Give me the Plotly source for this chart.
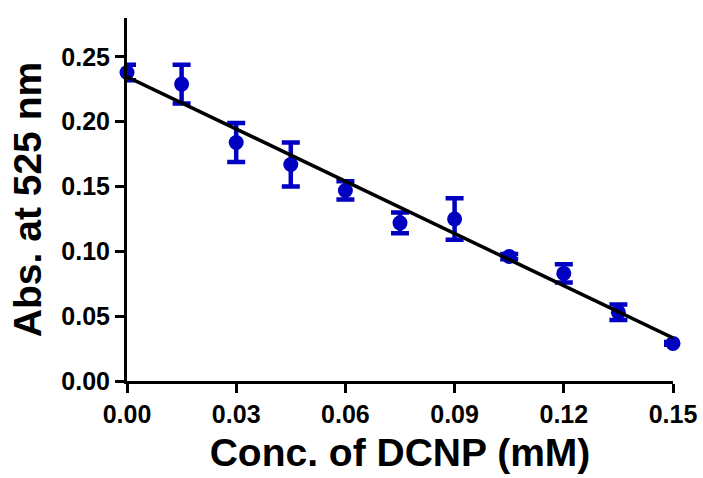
import numpy as np
import plotly.graph_objects as go

# DCNP concentration (mM) vs absorbance at 525 nm, mean ± error
conc = [0.000, 0.015, 0.030, 0.045, 0.060, 0.075, 0.090, 0.105, 0.120, 0.135, 0.150]
absorb = [0.238, 0.229, 0.184, 0.167, 0.147, 0.122, 0.125, 0.096, 0.083, 0.053, 0.029]
err = [0.006, 0.015, 0.015, 0.017, 0.007, 0.008, 0.016, 0.002, 0.007, 0.006, 0.001]

x_ticks = [0.00, 0.03, 0.06, 0.09, 0.12, 0.15]
y_ticks = [0.00, 0.05, 0.10, 0.15, 0.20, 0.25]

# linear regression through the means
slope, intercept = np.polyfit(conc, absorb, 1)
fit_x = [0.0, 0.15]
fit_y = [intercept + slope * v for v in fit_x]

blue = "#0000C0"
fig = go.Figure()
fig.add_trace(go.Scatter(
    x=conc, y=absorb, mode="markers",
    marker=dict(color=blue, size=15, line=dict(width=0)),
    error_y=dict(type="data", array=err, visible=True, color=blue,
                 thickness=4.5, width=9),
    showlegend=False, cliponaxis=False,
))
fig.add_trace(go.Scatter(
    x=fit_x, y=fit_y, mode="lines",
    line=dict(color="black", width=3.5),
    showlegend=False, cliponaxis=False,
))

tick_font = dict(family="Liberation Sans, Arial, sans-serif", size=25, color="black")
title_font = dict(family="Liberation Sans, Arial, sans-serif", size=39, color="black")

fig.update_layout(
    width=703, height=478,
    margin=dict(l=127, r=30, t=18, b=97),
    paper_bgcolor="white", plot_bgcolor="white",
    xaxis=dict(
        range=[0, 0.15], tickvals=x_ticks,
        ticktext=[f"<b>{v:.2f}</b>" for v in x_ticks],
        showgrid=False, zeroline=False, showline=True,
        linecolor="black", linewidth=3, automargin=False,
        ticks="outside", ticklen=9, tickwidth=3, tickcolor="black",
        tickfont=tick_font,
        title=dict(text="<b>Conc. of DCNP (mM)</b>", font=title_font, standoff=12),
    ),
    yaxis=dict(
        range=[0, 0.28], tickvals=y_ticks,
        ticktext=[f"<b>{v:.2f}</b>" for v in y_ticks],
        showgrid=False, zeroline=False, showline=True,
        linecolor="black", linewidth=3, automargin=False,
        ticks="outside", ticklen=9, tickwidth=3, tickcolor="black",
        tickfont=tick_font,
        title=dict(text="<b>Abs. at 525 nm</b>", font=title_font, standoff=8),
    ),
)

fig.write_html("out.html")
